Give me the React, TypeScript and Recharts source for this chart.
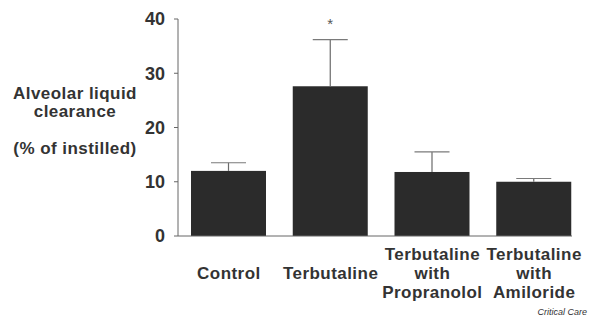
import React from "react";
import { BarChart, Bar, XAxis, YAxis, Label } from "recharts";

const categories = [
  "Control",
  "Terbutaline",
  "Terbutaline\nwith\nPropranolol",
  "Terbutaline\nwith\nAmiloride",
];
const means = [12.0, 27.6, 11.8, 10.0];
const sems = [1.5, 8.6, 3.7, 0.6];
const marks = ["", "*", "", ""];
const yTicks = [0, 10, 20, 30, 40];
const yLabelLines = ["Alveolar liquid", "clearance", "(% of instilled)"];

const data = categories.map((c, i) => ({
  name: c,
  value: means[i],
  err: sems[i],
  mark: marks[i],
}));

const FONT = "'Liberation Sans', Arial, Helvetica, sans-serif";

const BarWithError = (props: any) => {
  const { x, y, width, height, payload, value } = props;
  const k = height / value;
  const topY = y - payload.err * k;
  const cx = x + width / 2;
  return (
    <g>
      <rect x={x} y={y} width={width} height={height} fill="#2b2b2b" />
      <line x1={cx} y1={y} x2={cx} y2={topY} stroke="#6a6a6a" strokeWidth={1.2} />
      <line x1={cx - 17.5} y1={topY} x2={cx + 17.5} y2={topY} stroke="#7a7a7a" strokeWidth={1.2} />
      {payload.mark ? (
        <text x={cx} y={topY - 11} textAnchor="middle" fontFamily={FONT} fontSize={15} fill="#555">
          {payload.mark}
        </text>
      ) : null}
    </g>
  );
};

const XTick = (props: any) => {
  const { x, y, payload } = props;
  const lines = String(payload.value).split("\n");
  const lh = 19;
  const start = y + 35 - ((lines.length - 1) / 2) * lh;
  return (
    <text textAnchor="middle" fontFamily={FONT} fontWeight="bold" fontSize={17} letterSpacing={0.45} fill="#333">
      {lines.map((l, i) => (
        <tspan key={i} x={x} y={start + i * lh}>
          {l}
        </tspan>
      ))}
    </text>
  );
};

const YLabel = () => {
  const baselines = [99, 117, 154];
  return (
    <text textAnchor="middle" fontFamily={FONT} fontWeight="bold" fontSize={17} letterSpacing={0.45} fill="#333">
      {yLabelLines.map((l, i) => (
        <tspan key={i} x={75} y={baselines[i]}>
          {l}
        </tspan>
      ))}
    </text>
  );
};

export default function App() {
  return (
    <div style={{ position: "absolute", left: 0, top: 0, width: 600, height: 319, background: "#fff" }}>
      <BarChart
        width={600}
        height={319}
        data={data}
        margin={{ top: 19, right: 28, bottom: 53, left: 118 }}
      >
        <XAxis
          dataKey="name"
          height={30}
          tick={<XTick />}
          tickLine={false}
          axisLine={{ stroke: "#666" }}
          interval={0}
          padding={{ left: 0, right: -13 }}
        />
        <YAxis
          width={60}
          domain={[0, 40]}
          ticks={yTicks}
          tickSize={4}
          tickMargin={9}
          axisLine={{ stroke: "#666" }}
          tickLine={{ stroke: "#666" }}
          tick={{ fontFamily: FONT, fontWeight: "bold", fontSize: 18, fill: "#333" }}
        >
          <Label content={<YLabel />} />
        </YAxis>
        <Bar dataKey="value" barSize={75} shape={<BarWithError />} isAnimationActive={false} />
      </BarChart>
      <div
        style={{
          position: "absolute",
          right: 13,
          top: 307,
          fontFamily: FONT,
          fontStyle: "italic",
          fontSize: 9,
          color: "#333",
          lineHeight: "11px",
        }}
      >
        Critical Care
      </div>
    </div>
  );
}
